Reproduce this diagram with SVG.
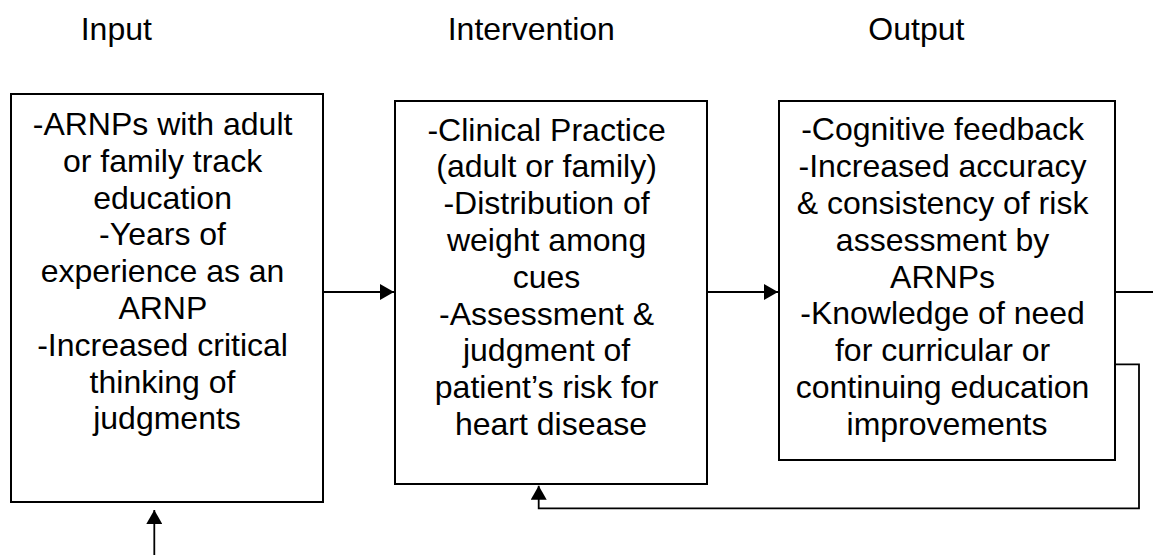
<svg xmlns="http://www.w3.org/2000/svg" width="1153" height="555" viewBox="0 0 1153 555">
<style>
text{font-family:"Liberation Sans",Arial,sans-serif;font-size:32px;fill:#000}
.box{fill:#fff;stroke:#000;stroke-width:2}
.c{text-anchor:middle}
.ln{fill:none;stroke:#000;stroke-width:1.8}
</style>
<defs>
<marker id="ah" markerWidth="14" markerHeight="16" refX="14" refY="8" orient="auto" markerUnits="userSpaceOnUse">
<path d="M0,0 L14,8 L0,16 Z" fill="#000"/>
</marker>
</defs>
<rect width="1153" height="555" fill="#fff"/>
<g id="headings">
<text x="80.7" y="39.5">Input</text>
<text x="447.7" y="39.5">Intervention</text>
<text x="868.3" y="39.5">Output</text>
</g>
<g id="node-input">
<rect class="box" x="11" y="94" width="312" height="408"/>
<text class="c" x="167" y="135">
<tspan x="167" dy="0">-ARNPs with adult</tspan>
<tspan x="167" dy="36.8">or family track</tspan>
<tspan x="167" dy="36.8">education</tspan>
<tspan x="167" dy="36.8">-Years of</tspan>
<tspan x="167" dy="36.8">experience as an</tspan>
<tspan x="167" dy="36.8">ARNP</tspan>
<tspan x="167" dy="36.8">-Increased critical</tspan>
<tspan x="167" dy="36.8">thinking of</tspan>
<tspan x="167" dy="36.8">judgments</tspan>
</text>
</g>
<g id="node-intervention">
<rect class="box" x="395" y="101" width="312" height="383"/>
<text class="c" x="551" y="140.6">
<tspan x="551" dy="0">-Clinical Practice</tspan>
<tspan x="551" dy="36.8">(adult or family)</tspan>
<tspan x="551" dy="36.8">-Distribution of</tspan>
<tspan x="551" dy="36.8">weight among</tspan>
<tspan x="551" dy="36.8">cues</tspan>
<tspan x="551" dy="36.8">-Assessment &amp;</tspan>
<tspan x="551" dy="36.8">judgment of</tspan>
<tspan x="551" dy="36.8">patient’s risk for</tspan>
<tspan x="551" dy="36.8">heart disease</tspan>
</text>
</g>
<g id="node-output">
<rect class="box" x="779" y="101" width="336" height="359"/>
<text class="c" x="947" y="140.3">
<tspan x="947" dy="0">-Cognitive feedback</tspan>
<tspan x="947" dy="36.8">-Increased accuracy</tspan>
<tspan x="947" dy="36.8">&amp; consistency of risk</tspan>
<tspan x="947" dy="36.8">assessment by</tspan>
<tspan x="947" dy="36.8">ARNPs</tspan>
<tspan x="947" dy="36.8">-Knowledge of need</tspan>
<tspan x="947" dy="36.8">for curricular or</tspan>
<tspan x="947" dy="36.8">continuing education</tspan>
<tspan x="947" dy="36.8">improvements</tspan>
</text>
</g>
<g id="connectors">
<line class="ln" x1="323" y1="292" x2="394" y2="292" marker-end="url(#ah)"/>
<line class="ln" x1="707" y1="292" x2="778" y2="292" marker-end="url(#ah)"/>
<line class="ln" x1="1115" y1="292" x2="1153" y2="292"/>
<line class="ln" x1="154.3" y1="555" x2="154.3" y2="510" marker-end="url(#ah)"/>
<polyline class="ln" points="1115,364.3 1139,364.3 1139,508.3 538.7,508.3 538.7,485.7" marker-end="url(#ah)"/>
</g>
</svg>
